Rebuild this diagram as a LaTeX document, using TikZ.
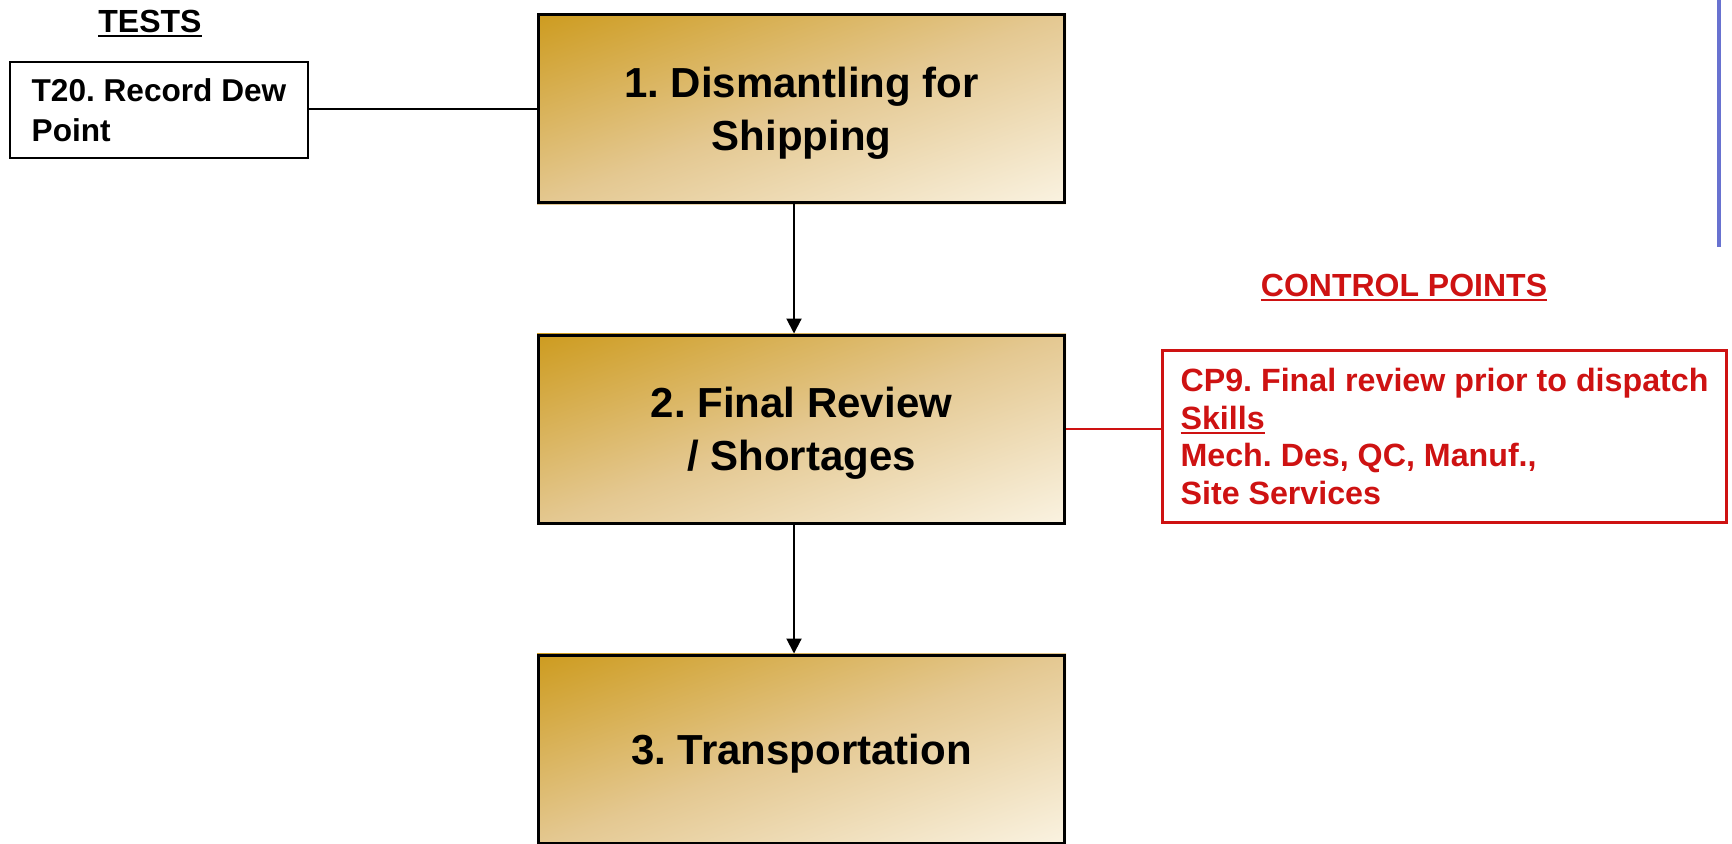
\documentclass[tikz,border=0pt]{standalone}
\usepackage{fontspec}
\setmainfont{Liberation Sans}
\usetikzlibrary{arrows.meta, calc, positioning}

\definecolor{goldtop}{RGB}{205,155,30}
\definecolor{goldmid}{RGB}{228,200,145}
\definecolor{goldlow}{RGB}{250,243,226}
\definecolor{cpred}{RGB}{206,18,18}
\definecolor{sideblue}{RGB}{104,114,208}

\pgfdeclarelayer{background}
\pgfsetlayers{background,main}

\frenchspacing
\newcommand{\ulbold}[1]{\setbox0\hbox{#1}\rlap{\rule[-2.6pt]{\wd0}{1.3pt}}\box0}

\tikzset{
  stage/.style={draw=black, line width=1.5pt, minimum width=263pt, minimum height=94pt,
    inner sep=0pt, align=center, text depth=-0.8pt, font=\bfseries\fontsize{21}{26.5}\selectfont},
  goldfill/.style={top color=goldtop, bottom color=goldlow, middle color=goldmid},
  testbox/.style={draw=black, line width=1.2pt, minimum width=149pt, minimum height=48pt,
    align=left, inner sep=0pt, text depth=-2.2pt, font=\bfseries\fontsize{15.8}{19.9}\selectfont},
  cpbox/.style={draw=cpred, text=cpred, line width=1.2pt, minimum width=282pt,
    minimum height=86pt, align=left, inner sep=0pt, font=\bfseries\fontsize{16.1}{18.85}\selectfont},
  heading/.style={anchor=base, inner sep=0pt, font=\bfseries\fontsize{16}{19}\selectfont},
  flow/.style={line width=1pt, -{Triangle[length=7.5pt, width=7.5pt]}},
}

\begin{document}
\begin{tikzpicture}[x=0.5pt, y=-0.5pt]
  \useasboundingbox (0,0) rectangle (1732,843);

  % process stages
  \node[stage] (dismantle) at (801.5,108.5) {1. Dismantling for\\Shipping};
  \node[stage] (review) at (801.5,429) {2. Final Review\\/ Shortages};
  \node[stage, text depth=0pt] (transport) at (801.5,749) {3. Transportation};

  % diagonal gold fill behind the stages
  \begin{pgfonlayer}{background}
    \foreach \s in {dismantle, review, transport} {
      \begin{scope}
        \clip (\s.south west) rectangle (\s.north east);
        \begin{scope}[transform canvas={shift={(\s.center)}, rotate=20}]
          \shade[goldfill] (-143pt,-90.5pt) rectangle (143pt,90.5pt);
        \end{scope}
      \end{scope}
    }
  \end{pgfonlayer}

  \draw[flow] ([xshift=-3.75pt]dismantle.south) -- ([xshift=-3.75pt]review.north);
  \draw[flow] ([xshift=-3.75pt]review.south) -- ([xshift=-3.75pt]transport.north);

  % tests
  \node[heading] (tests) at (150,32) {\ulbold{TESTS}};
  \node[testbox] (dewpoint) at (159,110) {T20. Record Dew\\Point};
  \draw[line width=1pt] (dismantle.west -| dewpoint.east) -- (dismantle.west);

  % control points
  \node[heading, text=cpred] (cphead) at (1404,296) {\ulbold{CONTROL POINTS}};
  \node[cpbox] (cpnine) at (1444.5,436.5)
    {CP9. Final review prior to dispatch\\\ulbold{Skills}\\Mech. Des, QC, Manuf.,\\Site Services};
  \draw[cpred, line width=1pt] (review.east) -- (review.east -| cpnine.west);

  % side rule
  \coordinate (railtop) at (1719,0);
  \coordinate (railend) at (1719,247);
  \draw[sideblue, line width=2pt] (railtop) -- (railend);
\end{tikzpicture}
\end{document}
